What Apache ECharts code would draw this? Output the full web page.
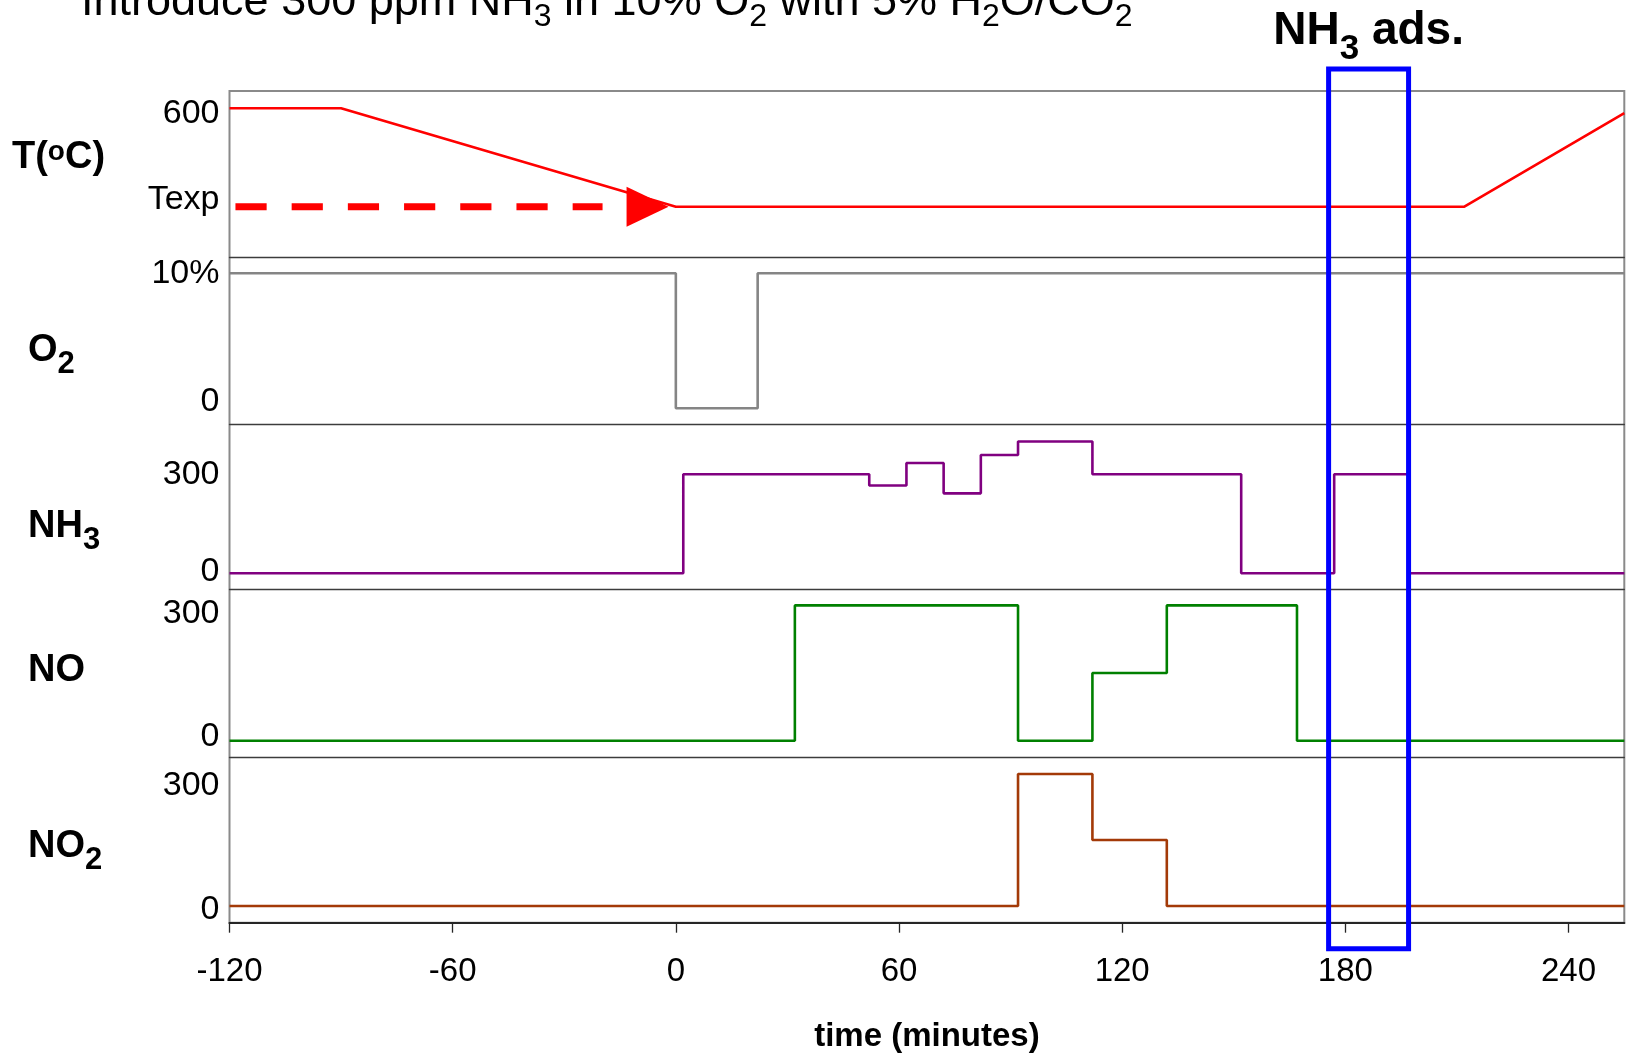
<!DOCTYPE html>
<html>
<head>
<meta charset="utf-8">
<title>NH3 adsorption protocol</title>
<script src="https://cdn.jsdelivr.net/npm/echarts@6/dist/echarts.min.js"></script>
<style>
  html, body { margin: 0; padding: 0; background: #ffffff; }
  #chart { width: 1627px; height: 1055px; }
</style>
</head>
<body>
<div id="chart"></div>
<script>
const FONT = '"Liberation Sans", Arial, Helvetica, sans-serif';

// time axis (minutes)
const TIME_RANGE = [-120, 255];
const TIME_TICKS = [-120, -60, 0, 60, 120, 180, 240];

// temperature programme: hold at 600 °C, cool to Texp, hold, reheat
const T_HOLD = 600;
const T_EXP = 300;
const T_TICKS = [T_EXP, T_HOLD];
const T_PROFILE = [[-120, 600], [-90, 600], [0, 300], [212, 300], [255, 585]];
const TEXP_ARROW = [[-118.4, 300], [-19.7, 300]];
const TEXP_ARROW_HEAD = [[-7.6, 300]];

// feed composition, step changes as [time, value]
const O2_TICKS = [0, 10];
const O2_PCT = [[-120, 10], [0, 0], [22, 10], [255, 10]];
const PPM_TICKS = [0, 300];
const NH3_PPM = [[-120, 0], [2, 300], [52, 266], [62, 334], [72, 242], [82, 358], [92, 399],
                 [112, 300], [152, 0], [177, 300], [197, 0], [255, 0]];
const NO_PPM = [[-120, 0], [32, 300], [92, 0], [112, 150], [132, 300], [167, 0], [255, 0]];
const NO2_PPM = [[-120, 0], [92, 300], [112, 150], [132, 0], [255, 0]];

// NH3 adsorption window (minutes)
const ADS_WINDOW = [175.5, 197];

// ---- layout ----
const GRID_LEFT = 229.5;
const GRID_WIDTH = 1394.8;
const FRAME_TOP = 91;
const FRAME_BOTTOM = 922.7;

// one stacked panel per quantity; nudge moves each tick label up (-) / down (+) in px
const PANELS = [
  { top: 91,    height: 166,   min: 146.6, max: 652.7, ticks: T_TICKS,
    text: v => (v === T_EXP ? 'Texp' : String(v)), nudge: [-7, 5] },
  { top: 257,   height: 167.4, min: -1.193, max: 11.207, ticks: O2_TICKS,
    text: v => (v === 10 ? '10%' : String(v)), nudge: [-6.6, 0] },
  { top: 424.4, height: 165.3, min: -49.7, max: 450.8, ticks: PPM_TICKS,
    text: v => String(v), nudge: [-1.6, 0] },
  { top: 589.7, height: 167.7, min: -37.0, max: 334.8, ticks: PPM_TICKS,
    text: v => String(v), nudge: [-4, 8] },
  { top: 757.4, height: 165.3, min: -38.0, max: 337.7, ticks: PPM_TICKS,
    text: v => String(v), nudge: [4, 11.8] }
];

function tickLabel(panel) {
  const rich = {};
  panel.ticks.forEach((v, i) => {
    const d = panel.nudge[i] || 0;
    rich['n' + i] = {
      fontFamily: FONT, fontSize: 34, lineHeight: 34, color: '#000',
      padding: d >= 0 ? [2 * d, 0, 0, 0] : [0, 0, -2 * d, 0]
    };
  });
  return {
    show: true,
    customValues: panel.ticks,
    margin: 10,
    formatter: v => {
      const i = panel.ticks.indexOf(v);
      return '{n' + i + '|' + panel.text(v) + '}';
    },
    rich: rich
  };
}

const grids = PANELS.map(p => ({
  left: GRID_LEFT, width: GRID_WIDTH, top: p.top, height: p.height,
  outerBoundsMode: 'none', containLabel: false, show: false
}));
// outer frame around all panels
grids.push({
  left: GRID_LEFT, width: GRID_WIDTH, top: FRAME_TOP, height: FRAME_BOTTOM - FRAME_TOP,
  outerBoundsMode: 'none', containLabel: false, show: true, z: -1,
  backgroundColor: 'transparent', borderColor: '#8a8a8a', borderWidth: 2
});

const xAxes = PANELS.map((p, i) => {
  const last = i === PANELS.length - 1;
  return {
    type: 'value', gridIndex: i, min: TIME_RANGE[0], max: TIME_RANGE[1],
    axisLine: { show: true, onZero: false,
      lineStyle: { color: last ? '#262626' : '#3c3c3c', width: last ? 2 : 1.3 } },
    axisTick: { show: last, length: 10, customValues: TIME_TICKS,
      lineStyle: { color: '#262626', width: 1.3 } },
    axisLabel: last ? {
      show: true, customValues: TIME_TICKS, margin: 33,
      fontFamily: FONT, fontSize: 33, color: '#000'
    } : { show: false },
    splitLine: { show: false },
    name: last ? 'time (minutes)' : '',
    nameLocation: 'middle',
    nameGap: 98,
    nameTextStyle: { fontFamily: FONT, fontSize: 33, fontWeight: 'bold', color: '#000' }
  };
});
xAxes.push({ type: 'value', gridIndex: PANELS.length, min: TIME_RANGE[0], max: TIME_RANGE[1], show: false });

const yAxes = PANELS.map((p, i) => ({
  type: 'value', gridIndex: i, min: p.min, max: p.max,
  axisLine: { show: false },
  axisTick: { show: false },
  splitLine: { show: false },
  axisLabel: tickLabel(p)
}));
yAxes.push({ type: 'value', gridIndex: PANELS.length, min: 0, max: 1, show: false });

function stepLine(idx, data, color) {
  return {
    type: 'line', xAxisIndex: idx, yAxisIndex: idx, data: data, step: 'end',
    showSymbol: false, symbol: 'none', silent: true,
    lineStyle: { color: color, width: 2.6 }, z: 3
  };
}

const series = [
  {
    type: 'line', xAxisIndex: 0, yAxisIndex: 0, data: T_PROFILE,
    showSymbol: false, symbol: 'none', silent: true,
    lineStyle: { color: '#ff0000', width: 2.6 }, z: 3
  },
  {
    type: 'line', xAxisIndex: 0, yAxisIndex: 0, data: TEXP_ARROW,
    showSymbol: false, symbol: 'none', silent: true,
    lineStyle: { color: '#ff0000', width: 7, type: [31.2, 25], cap: 'butt' }, z: 3
  },
  {
    type: 'scatter', xAxisIndex: 0, yAxisIndex: 0, data: TEXP_ARROW_HEAD,
    symbol: 'triangle', symbolSize: [40, 42], symbolRotate: -90, silent: true,
    itemStyle: { color: '#ff0000', opacity: 1 }, z: 4
  },
  stepLine(1, O2_PCT, '#858585'),
  stepLine(2, NH3_PPM, '#800080'),
  stepLine(3, NO_PPM, '#008000'),
  stepLine(4, NO2_PPM, '#a33a08')
];

// bold panel titles with sub/superscripts
const nameRich = {
  m: { fontFamily: FONT, fontSize: 38, fontWeight: 'bold', lineHeight: 38, color: '#000' },
  s: { fontFamily: FONT, fontSize: 31, fontWeight: 'bold', lineHeight: 31, color: '#000', padding: [26, 0, 0, 0] },
  sup: { fontFamily: FONT, fontSize: 28, fontWeight: 'bold', lineHeight: 28, color: '#000', padding: [0, 0, 12, 0] }
};
function panelName(text, x, y) {
  return {
    type: 'text', x: x, y: y, z: 50, silent: true,
    style: { text: text, rich: nameRich, align: 'left', verticalAlign: 'middle',
             textAlign: 'left', textVerticalAlign: 'middle' }
  };
}

const baseGraphics = [
  {
    type: 'text', x: 81, y: 3, z: 50, silent: true,
    style: {
      text: '{m|Introduce 300 ppm NH}{s|3}{m| in 10% O}{s|2}{m| with 5% H}{s|2}{m|O/CO}{s|2}',
      rich: {
        m: { fontFamily: FONT, fontSize: 45, lineHeight: 45, color: '#000' },
        s: { fontFamily: FONT, fontSize: 32, lineHeight: 32, color: '#000', padding: [28, 0, 0, 0] }
      },
      align: 'left', verticalAlign: 'middle', textAlign: 'left', textVerticalAlign: 'middle'
    }
  },
  panelName('{m|T(}{sup|o}{m|C)}', 12, 158),
  panelName('{m|O}{s|2}', 28, 351),
  panelName('{m|NH}{s|3}', 28, 527),
  panelName('{m|NO}', 28, 671),
  panelName('{m|NO}{s|2}', 28, 847)
];

const chart = echarts.init(document.getElementById('chart'), null, { renderer: 'canvas' });
chart.setOption({
  animation: false,
  backgroundColor: '#ffffff',
  grid: grids,
  xAxis: xAxes,
  yAxis: yAxes,
  series: series,
  graphic: baseGraphics
});

// highlight box for the NH3 adsorption window, placed through the time axis
const BOX_TOP = 69;
const BOX_BOTTOM = 948.7;
const bx0 = chart.convertToPixel({ xAxisIndex: 4 }, ADS_WINDOW[0]);
const bx1 = chart.convertToPixel({ xAxisIndex: 4 }, ADS_WINDOW[1]);
chart.setOption({
  graphic: baseGraphics.concat([
    {
      type: 'rect', z: 100, silent: true,
      shape: { x: bx0, y: BOX_TOP, width: bx1 - bx0, height: BOX_BOTTOM - BOX_TOP },
      style: { fill: 'transparent', stroke: '#0000ff', lineWidth: 5 }
    },
    {
      type: 'text', x: (bx0 + bx1) / 2, y: 31.5, z: 100, silent: true,
      style: {
        text: '{m|NH}{s|3}{m| ads.}',
        rich: {
          m: { fontFamily: FONT, fontSize: 46, fontWeight: 'bold', lineHeight: 46, color: '#0000ff' },
          s: { fontFamily: FONT, fontSize: 35, fontWeight: 'bold', lineHeight: 35, color: '#0000ff', padding: [35, 0, 0, 0] }
        },
        align: 'center', verticalAlign: 'middle', textAlign: 'center', textVerticalAlign: 'middle'
      }
    }
  ])
});
</script>
</body>
</html>
